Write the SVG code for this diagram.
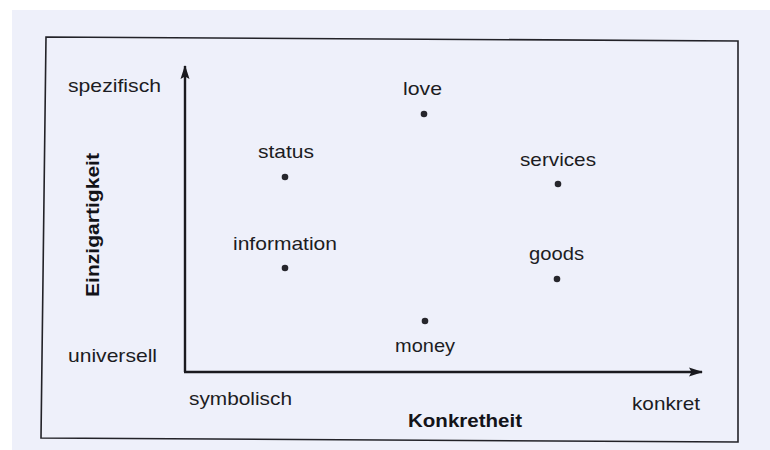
<svg xmlns="http://www.w3.org/2000/svg" width="770" height="450" viewBox="0 0 770 450">
  <style>
    .lbl { font-family: "Liberation Sans", Arial, sans-serif; font-size: 19px; fill: #1c1c22; }
    .ttl { font-family: "Liberation Sans", Arial, sans-serif; font-size: 18px; font-weight: bold; fill: #131318; }
    .axis { stroke: #1a1a1f; stroke-width: 2.4; fill: none; }
    .dot { fill: #26262c; }
  </style>
  <defs>
    <marker id="arrow" viewBox="0 0 14 10" refX="13" refY="5" markerWidth="14" markerHeight="10" markerUnits="userSpaceOnUse" orient="auto">
      <path d="M0,0.5 L14,5 L0,9.5 L2.5,5 Z" fill="#1a1a1f"/>
    </marker>
  </defs>

  <!-- paper -->
  <rect width="770" height="450" fill="#ffffff"/>
  <rect x="12" y="10" width="758" height="440" fill="#eef0fa"/>

  <!-- frame -->
  <polygon points="46,37 738,41 738,442 41,438" fill="none" stroke="#222228" stroke-width="1.6"/>

  <!-- axes -->
  <g id="connectors">
    <line class="axis" x1="185" y1="372" x2="185" y2="66" marker-end="url(#arrow)"/>
    <line class="axis" x1="184" y1="372" x2="702" y2="372" marker-end="url(#arrow)"/>
  </g>

  <!-- axis labels -->
  <g id="axis-y">
    <text class="lbl" x="68" y="92" textLength="93" lengthAdjust="spacingAndGlyphs">spezifisch</text>
    <text class="lbl" x="68" y="362" textLength="89" lengthAdjust="spacingAndGlyphs">universell</text>
    <text class="ttl" transform="translate(99,225) rotate(-90)" text-anchor="middle" textLength="144" lengthAdjust="spacingAndGlyphs">Einzigartigkeit</text>
  </g>
  <g id="axis-x">
    <text class="lbl" x="189" y="405" textLength="103" lengthAdjust="spacingAndGlyphs">symbolisch</text>
    <text class="lbl" x="632" y="410" textLength="68" lengthAdjust="spacingAndGlyphs">konkret</text>
    <text class="ttl" x="408" y="427" textLength="114" lengthAdjust="spacingAndGlyphs">Konkretheit</text>
  </g>

  <!-- resources -->
  <g id="love">
    <text class="lbl" x="403" y="95" textLength="39" lengthAdjust="spacingAndGlyphs">love</text>
    <circle class="dot" cx="424" cy="114" r="3.3"/>
  </g>
  <g id="status">
    <text class="lbl" x="258" y="158" textLength="56" lengthAdjust="spacingAndGlyphs">status</text>
    <circle class="dot" cx="285" cy="177" r="3.3"/>
  </g>
  <g id="services">
    <text class="lbl" x="520" y="166" textLength="76" lengthAdjust="spacingAndGlyphs">services</text>
    <circle class="dot" cx="558" cy="184" r="3.3"/>
  </g>
  <g id="information">
    <text class="lbl" x="233" y="250" textLength="104" lengthAdjust="spacingAndGlyphs">information</text>
    <circle class="dot" cx="285" cy="268" r="3.3"/>
  </g>
  <g id="goods">
    <text class="lbl" x="529" y="260" textLength="55" lengthAdjust="spacingAndGlyphs">goods</text>
    <circle class="dot" cx="557" cy="279" r="3.3"/>
  </g>
  <g id="money">
    <circle class="dot" cx="425" cy="321" r="3.3"/>
    <text class="lbl" x="395" y="352" textLength="60" lengthAdjust="spacingAndGlyphs">money</text>
  </g>
</svg>
